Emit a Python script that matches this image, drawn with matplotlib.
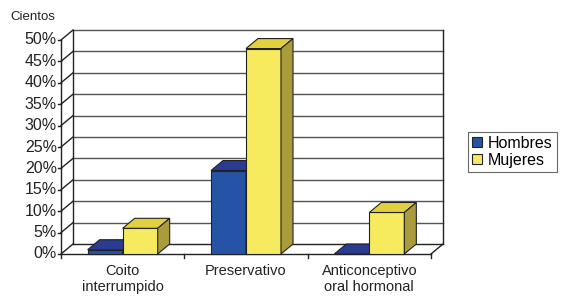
import matplotlib.pyplot as plt
from matplotlib.patches import Polygon, Patch

plt.rcParams['font.family'] = ['Liberation Sans', 'DejaVu Sans']

categorias = ['Coito\ninterrumpido', 'Preservativo', 'Anticonceptivo\noral hormonal']
hombres = [1, 19.5, 0]
mujeres = [6, 48, 9.7]
yticks = [0, 5, 10, 15, 20, 25, 30, 35, 40, 45, 50]
series = ['Hombres', 'Mujeres']

# colores: frente, tapa, lado
azul = ('#2553a5', '#2b3a92', '#1b2a6e')
amarillo = ('#f6ea5f', '#e2d13c', '#a99c3c')

W, H = 563, 296
fig = plt.figure(figsize=(W / 100, H / 100), dpi=100)
ax = fig.add_axes([61 / W, (H - 254) / H, 370 / W, 214 / H])
ax.set_xlim(-0.5, 2.5)
ax.set_ylim(0, 50)
ax.axis('off')

px_x = 370 / 3.0   # pixeles por categoria
px_y = 214 / 50.0  # pixeles por %
dx = 12 / px_x
dy = 10 / px_y
x0, x1 = -0.5, 2.5
lc = '#222222'

# pared del fondo
ax.add_patch(Polygon([(x0 + dx, dy), (x1 + dx, dy), (x1 + dx, 50 + dy), (x0 + dx, 50 + dy)],
                     closed=True, facecolor='white', edgecolor='none', clip_on=False, zorder=1))
for g in yticks:
    c = lc if g in (0, ) else '#555555'
    ax.plot([x0 + dx, x1 + dx], [g + dy, g + dy], color=c, lw=1, clip_on=False, zorder=2)
    ax.plot([x0, x0 + dx], [g, g + dy], color=lc, lw=1, clip_on=False, zorder=2)
    ax.plot([x0 - 3 / px_x, x0], [g, g], color=lc, lw=1, clip_on=False, zorder=2)
ax.plot([x0, x0], [0, 50], color=lc, lw=1, clip_on=False, zorder=2)
ax.plot([x0 + dx, x0 + dx], [dy, 50 + dy], color=lc, lw=1, clip_on=False, zorder=2)
ax.plot([x1 + dx, x1 + dx], [dy, 50 + dy], color=lc, lw=1, clip_on=False, zorder=2)
# piso
ax.plot([x0, x1], [0, 0], color=lc, lw=1, clip_on=False, zorder=2)
ax.plot([x1, x1 + dx], [0, dy], color=lc, lw=1, clip_on=False, zorder=2)
for k in range(4):
    ax.plot([x0 + k, x0 + k], [0, -4 / px_y], color=lc, lw=1, clip_on=False, zorder=2)

for g in yticks:
    ax.text(x0 - 4 / px_x, g, str(g) + '%', ha='right', va='center', fontsize=11.5, color='#222222')

for i, cat in enumerate(categorias):
    ax.text(i, -10 / px_y, cat, ha='center', va='top', fontsize=10.5, color='#222222',
            linespacing=1.15)


def barra(xa, w, v, cols):
    ax.add_patch(Polygon([(xa, 0), (xa + w, 0), (xa + w, v), (xa, v)], closed=True,
                         facecolor=cols[0], edgecolor=lc, lw=0.8, clip_on=False, zorder=3))
    ax.add_patch(Polygon([(xa, v), (xa + w, v), (xa + w + dx, v + dy), (xa + dx, v + dy)], closed=True,
                         facecolor=cols[1], edgecolor=lc, lw=0.8, clip_on=False, zorder=3))
    ax.add_patch(Polygon([(xa + w, 0), (xa + w + dx, dy), (xa + w + dx, v + dy), (xa + w, v)], closed=True,
                         facecolor=cols[2], edgecolor=lc, lw=0.8, clip_on=False, zorder=3))


bw = 35 / px_x
for i in range(len(categorias)):
    barra(i - bw, bw, hombres[i], azul)
    barra(i, bw, mujeres[i], amarillo)

fig.text(10 / W, 1 - 17 / H, 'Cientos', fontsize=9.5, va='center', ha='left', color='#222222')

handles = [Patch(facecolor=azul[0], edgecolor=lc, lw=0.8),
           Patch(facecolor=amarillo[0], edgecolor=lc, lw=0.8)]
leg = fig.legend(handles, series, loc='upper left', bbox_to_anchor=(468 / W, 1 - 132 / H),
                 fontsize=11.5, frameon=True, fancybox=False, edgecolor='#444444',
                 handlelength=0.6, handleheight=0.6, handletextpad=0.4, borderpad=0.25,
                 labelspacing=0.1, borderaxespad=0)
leg.get_frame().set_linewidth(0.8)

fig.savefig('out.png', dpi=100)
